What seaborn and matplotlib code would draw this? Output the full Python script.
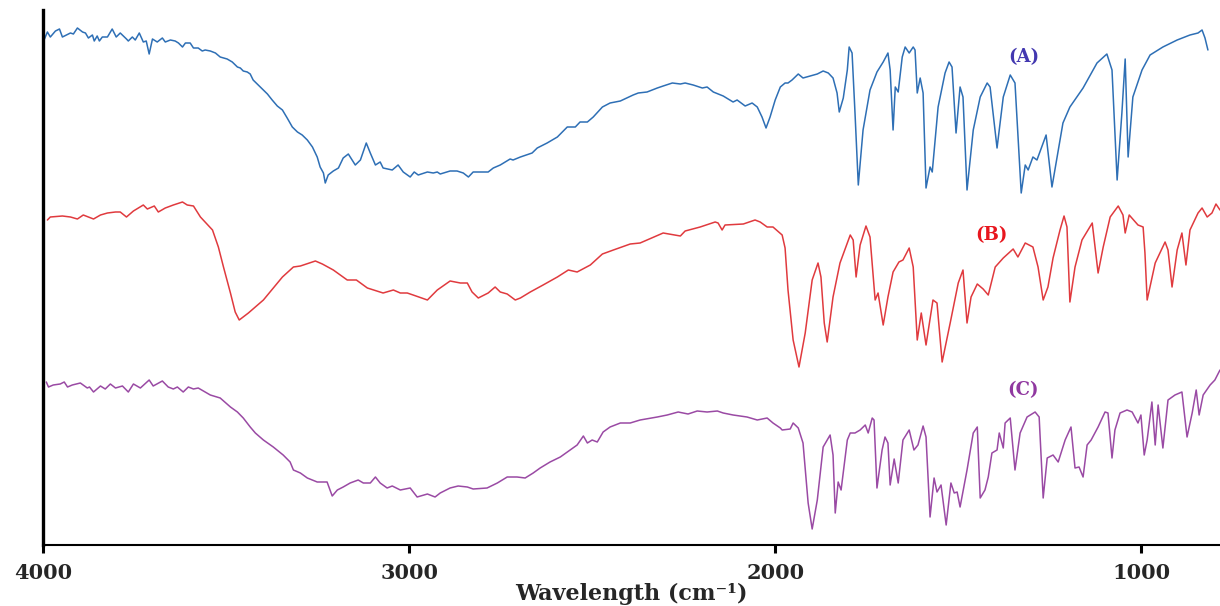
import numpy as np
import pandas as pd
import matplotlib
matplotlib.use("Agg")
import matplotlib.pyplot as plt
import seaborn as sns

# ---------------- data (wavenumber in cm-1, transmittance in arbitrary offset units) -------------
wn_a = [3996, 3988, 3980, 3966, 3955, 3947, 3925, 3917, 3906, 3892, 3884, 3876, 3865, 3860, 3852, 3846,
        3838, 3824, 3811, 3800, 3789, 3772, 3767, 3756, 3748, 3737, 3726, 3718, 3710, 3701, 3688, 3674,
        3666, 3652, 3639, 3630, 3619, 3611, 3598, 3589, 3576, 3565, 3557, 3543, 3529, 3516, 3497, 3483,
        3469, 3461, 3453, 3442, 3434, 3426, 3412, 3398, 3387, 3374, 3360, 3346, 3333, 3319, 3305, 3292,
        3278, 3264, 3251, 3243, 3234, 3229, 3221, 3207, 3193, 3180, 3166, 3147, 3133, 3117, 3106, 3092,
        3079, 3071, 3046, 3030, 3016, 2997, 2986, 2975, 2950, 2934, 2923, 2915, 2888, 2869, 2852, 2838,
        2825, 2784, 2770, 2751, 2724, 2716, 2696, 2664, 2650, 2623, 2595, 2568, 2546, 2533, 2513, 2497,
        2472, 2451, 2423, 2388, 2374, 2350, 2322, 2306, 2281, 2259, 2246, 2224, 2199, 2186, 2169, 2142,
        2115, 2104, 2082, 2063, 2049, 2036, 2025, 2014, 2000, 1986, 1973, 1965, 1954, 1937, 1924, 1905,
        1885, 1869, 1855, 1842, 1831, 1825, 1814, 1803, 1798, 1790, 1782, 1773, 1760, 1741, 1722, 1705,
        1692, 1686, 1678, 1672, 1664, 1653, 1645, 1634, 1623, 1618, 1612, 1604, 1596, 1588, 1577, 1571,
        1555, 1536, 1525, 1517, 1506, 1495, 1487, 1476, 1459, 1440, 1421, 1413, 1394, 1377, 1358, 1345,
        1328, 1317, 1309, 1296, 1285, 1260, 1244, 1230, 1214, 1195, 1159, 1121, 1094, 1080, 1066, 1053,
        1044, 1036, 1023, 998, 976, 941, 902, 867, 845, 834, 826, 818]
t_a = [506, 513, 508, 514, 516, 508, 512, 511, 517, 513, 512, 507, 510, 504, 509, 504,
       508, 508, 516, 508, 512, 506, 504, 508, 505, 512, 503, 504, 491, 506, 503, 507,
       503, 505, 504, 502, 498, 502, 502, 497, 497, 494, 495, 494, 492, 488, 486, 483,
       478, 477, 474, 473, 471, 465, 460, 455, 451, 445, 439, 435, 427, 418, 413, 410,
       405, 398, 388, 378, 372, 362, 370, 374, 377, 387, 391, 380, 385, 402, 392, 380,
       383, 377, 375, 380, 373, 368, 373, 370, 373, 372, 373, 371, 374, 374, 372, 368,
       373, 373, 377, 380, 386, 385, 388, 392, 397, 402, 408, 418, 418, 423, 423, 428,
       438, 442, 444, 450, 452, 453, 457, 459, 462, 461, 462, 460, 457, 458, 453, 449,
       443, 445, 439, 442, 438, 428, 417, 428, 445, 458, 462, 462, 465, 471, 467, 469,
       471, 474, 472, 467, 452, 433, 447, 475, 498, 492, 432, 360, 415, 455, 473, 483,
       492, 475, 415, 458, 453, 488, 498, 492, 498, 495, 452, 467, 452, 357, 378, 373,
       438, 472, 483, 478, 412, 458, 448, 355, 415, 448, 462, 458, 397, 448, 470, 462,
       352, 380, 375, 388, 385, 410, 358, 388, 422, 438, 457, 482, 491, 475, 365, 432,
       486, 388, 448, 475, 490, 498, 505, 510, 512, 515, 507, 495]

wn_b = [3988, 3980, 3947, 3925, 3906, 3890, 3862, 3843, 3824, 3802, 3789, 3772, 3753, 3726, 3715, 3696,
        3685, 3666, 3644, 3619, 3606, 3589, 3570, 3537, 3521, 3507, 3488, 3475, 3464, 3439, 3398, 3346,
        3316, 3297, 3256, 3237, 3207, 3169, 3144, 3114, 3071, 3043, 3024, 3005, 2989, 2950, 2923, 2888,
        2860, 2841, 2828, 2811, 2784, 2765, 2751, 2732, 2710, 2696, 2669, 2634, 2595, 2565, 2541, 2505,
        2472, 2442, 2396, 2369, 2306, 2259, 2246, 2205, 2164, 2156, 2145, 2137, 2087, 2055, 2041, 2022,
        2006, 1981, 1973, 1965, 1951, 1935, 1918, 1899, 1883, 1875, 1866, 1858, 1842, 1823, 1795, 1787,
        1779, 1768, 1752, 1741, 1727, 1719, 1705, 1692, 1678, 1662, 1651, 1634, 1623, 1612, 1601, 1588,
        1569, 1558, 1544, 1522, 1500, 1487, 1476, 1465, 1448, 1432, 1418, 1399, 1377, 1350, 1337, 1317,
        1296, 1282, 1268, 1255, 1241, 1222, 1211, 1203, 1195, 1181, 1162, 1134, 1118, 1104, 1085, 1063,
        1050, 1044, 1033, 1009, 995, 990, 984, 962, 935, 927, 916, 902, 889, 878, 867, 845,
        834, 820, 807, 796, 785]
t_b = [325, 328, 329, 328, 326, 330, 326, 330, 332, 333, 333, 328, 334, 340, 336, 339,
       333, 337, 340, 343, 340, 339, 328, 315, 298, 278, 252, 233, 225, 232, 245, 268,
       278, 279, 284, 281, 275, 265, 265, 257, 252, 255, 252, 252, 250, 245, 255, 264,
       262, 262, 253, 247, 252, 258, 253, 251, 245, 247, 253, 260, 268, 275, 273, 280,
       291, 295, 301, 302, 312, 309, 314, 318, 323, 322, 315, 320, 321, 325, 323, 318,
       318, 310, 297, 255, 205, 178, 212, 265, 282, 268, 222, 203, 248, 282, 310, 305,
       268, 300, 319, 308, 245, 252, 220, 248, 273, 283, 285, 297, 278, 205, 232, 200,
       245, 242, 183, 222, 262, 275, 222, 248, 261, 256, 250, 278, 287, 296, 288, 302,
       298, 278, 245, 258, 287, 315, 329, 318, 243, 278, 305, 322, 272, 298, 328, 339,
       330, 312, 330, 320, 318, 292, 245, 282, 303, 295, 258, 295, 312, 280, 315, 332,
       337, 328, 332, 341, 335]

wn_c = [3991, 3985, 3972, 3953, 3942, 3933, 3920, 3898, 3879, 3873, 3862, 3843, 3830, 3816, 3802, 3783,
        3767, 3753, 3734, 3710, 3699, 3674, 3658, 3644, 3633, 3617, 3603, 3589, 3576, 3562, 3543, 3516,
        3488, 3469, 3453, 3434, 3420, 3398, 3371, 3344, 3325, 3316, 3297, 3278, 3251, 3224, 3210, 3196,
        3180, 3161, 3139, 3125, 3106, 3092, 3079, 3060, 3046, 3024, 2997, 2978, 2950, 2929, 2915, 2888,
        2866, 2841, 2825, 2787, 2759, 2732, 2705, 2683, 2661, 2642, 2615, 2587, 2560, 2541, 2524, 2513,
        2500, 2486, 2470, 2451, 2423, 2396, 2369, 2322, 2295, 2265, 2238, 2213, 2186, 2158, 2142, 2115,
        2077, 2049, 2022, 2006, 1986, 1981, 1959, 1951, 1937, 1924, 1910, 1899, 1885, 1869, 1850, 1842,
        1836, 1828, 1820, 1803, 1795, 1782, 1768, 1754, 1746, 1735, 1730, 1722, 1708, 1700, 1692, 1686,
        1675, 1664, 1651, 1634, 1621, 1610, 1596, 1588, 1577, 1566, 1558, 1547, 1533, 1520, 1511, 1503,
        1495, 1476, 1459, 1448, 1440, 1427, 1418, 1408, 1394, 1388, 1377, 1372, 1358, 1345, 1331, 1312,
        1290, 1279, 1268, 1257, 1241, 1227, 1208, 1192, 1181, 1170, 1159, 1148, 1137, 1118, 1099, 1091,
        1080, 1072, 1058, 1039, 1025, 1009, 1001, 992, 984, 971, 962, 954, 941, 927, 908, 889,
        875, 861, 850, 842, 831, 812, 799, 785]
t_c = [163, 158, 160, 161, 163, 158, 160, 162, 157, 158, 153, 159, 156, 161, 157, 159,
       153, 161, 157, 165, 159, 164, 158, 156, 158, 153, 158, 156, 157, 154, 150, 147,
       138, 133, 127, 118, 112, 105, 98, 90, 83, 75, 72, 67, 63, 63, 49, 55,
       58, 62, 65, 62, 62, 68, 62, 57, 59, 55, 57, 48, 51, 48, 52, 57,
       59, 58, 56, 57, 62, 68, 68, 67, 72, 77, 83, 88, 95, 100, 109, 102,
       105, 103, 113, 118, 122, 122, 125, 128, 130, 133, 131, 134, 133, 134, 132, 130,
       128, 125, 127, 122, 117, 115, 116, 122, 117, 102, 42, 16, 45, 98, 110, 90,
       32, 63, 55, 105, 112, 112, 115, 120, 112, 127, 125, 57, 95, 108, 102, 60,
       86, 62, 105, 115, 95, 100, 119, 108, 28, 67, 53, 60, 20, 62, 52, 53,
       38, 75, 112, 118, 47, 55, 68, 92, 95, 112, 97, 122, 127, 75, 112, 128,
       133, 128, 47, 87, 90, 83, 105, 118, 77, 78, 68, 100, 105, 118, 133, 132,
       87, 115, 132, 135, 133, 122, 130, 90, 105, 143, 100, 140, 97, 145, 150, 153,
       108, 132, 155, 130, 150, 160, 165, 175]

series_names = ["A", "B", "C"]
line_colors = ["#2e6fb5", "#e03a3e", "#9a4aa4"]
label_texts = ["(A)", "(B)", "(C)"]
label_colors = ["#4338b0", "#e8161e", "#9038a0"]
label_wn = [1320, 1410, 1323]
label_t = [488, 310, 155]

tick_values = [4000, 3000, 2000, 1000]
tick_labels = ["4000", "3000", "2000", "1000"]
x_label = "Wavelength (cm\u207b\u00b9)"

# ---------------- build frame ----------------
frames = []
for name, wn, tt in zip(series_names, [wn_a, wn_b, wn_c], [t_a, t_b, t_c]):
    frames.append(pd.DataFrame({"wavenumber": wn, "T": tt, "series": name}))
df = pd.concat(frames, ignore_index=True)

# ---------------- plot ----------------
sns.set_style("white")
plt.rcParams["font.family"] = ["DejaVu Serif"]

W, H = 1220, 606
fig = plt.figure(figsize=(W / 100, H / 100), dpi=100)
ax = fig.add_axes([43 / W, 61 / H, 1177 / W, 535 / H])

sns.lineplot(data=df, x="wavenumber", y="T", hue="series", palette=line_colors,
             estimator=None, sort=False, legend=False, linewidth=1.1, ax=ax)

for txt, col, xw, yt in zip(label_texts, label_colors, label_wn, label_t):
    ax.text(xw, yt, txt, color=col, fontsize=13, fontweight="bold",
            ha="center", va="center", family="DejaVu Serif")

ax.set_xlim(4000, 785)
ax.set_ylim(0, 535)

ax.set_xticks(tick_values)
ax.set_xticklabels(tick_labels, fontsize=15, fontweight="bold")
ax.set_yticks([])
ax.set_ylabel("")
ax.set_xlabel(x_label, fontsize=16, fontweight="bold", labelpad=0)

ax.tick_params(axis="x", which="major", bottom=True, direction="out", length=6,
               width=2.2, pad=7, color="black")

for side in ["top", "right"]:
    ax.spines[side].set_visible(False)
ax.spines["left"].set_linewidth(2.4)
ax.spines["left"].set_color("black")
ax.spines["bottom"].set_linewidth(1.5)
ax.spines["bottom"].set_color("black")

fig.savefig("out.png", dpi=100, facecolor="white")
